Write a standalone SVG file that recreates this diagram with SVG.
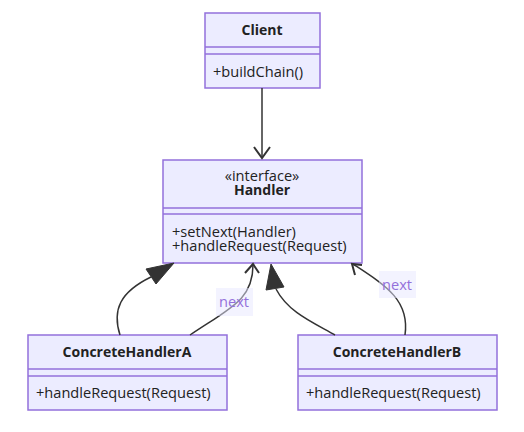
<svg xmlns="http://www.w3.org/2000/svg" width="524" height="432" viewBox="0 0 524 432">
<style>
.box{fill:#ECECFF;stroke:#9370DB;stroke-width:1.5}
.div{stroke:#9370DB;stroke-width:1.5}
text{font-family:"Open Sans","Noto Sans","Liberation Sans",sans-serif;font-size:14.6px;fill:#222}
.t{font-weight:bold;text-anchor:middle;font-size:14px}
.c{text-anchor:middle}
.edge{fill:none;stroke:#333;stroke-width:1.5}
.lbl{fill:#9370DB;text-anchor:middle}
.lblbg{fill:#E8E8FF;opacity:0.5}
</style>
<rect width="524" height="432" fill="#fff"/>
<g id="Client">
<rect class="box" x="205" y="13" width="115" height="75"/>
<line class="div" x1="205" y1="47" x2="320" y2="47"/>
<line class="div" x1="205" y1="54" x2="320" y2="54"/>
<text class="t" x="262" y="35">Client</text>
<text x="213" y="77">+buildChain()</text>
</g>
<g id="Handler">
<rect class="box" x="163" y="160" width="199" height="103"/>
<line class="div" x1="163" y1="208" x2="362" y2="208"/>
<line class="div" x1="163" y1="214" x2="362" y2="214"/>
<text class="c" x="262" y="181">«interface»</text>
<text class="t" x="262" y="195">Handler</text>
<text x="172" y="237">+setNext(Handler)</text>
<text x="172" y="251">+handleRequest(Request)</text>
</g>
<g id="ConcreteHandlerA">
<rect class="box" x="28" y="335" width="199" height="75"/>
<line class="div" x1="28" y1="369" x2="227" y2="369"/>
<line class="div" x1="28" y1="376" x2="227" y2="376"/>
<text class="t" x="127" y="357">ConcreteHandlerA</text>
<text x="36" y="398">+handleRequest(Request)</text>
</g>
<g id="ConcreteHandlerB">
<rect class="box" x="298" y="335" width="199" height="75"/>
<line class="div" x1="298" y1="369" x2="497" y2="369"/>
<line class="div" x1="298" y1="376" x2="497" y2="376"/>
<text class="t" x="397" y="357">ConcreteHandlerB</text>
<text x="306" y="398">+handleRequest(Request)</text>
</g>
<g id="connectors">
<line class="edge" x1="262" y1="88" x2="262" y2="158"/>
<path d="M254,147 L262,158 L270,147" fill="none" stroke="#333" stroke-width="2"/>
<path class="edge" d="M120,335 C112,310 120,292 151,277"/>
<polygon points="174,263 146,269 156,284" fill="#333" stroke="#333" stroke-width="1"/>
<path class="edge" d="M276,289 C288,312 312,322 335,335"/>
<polygon points="271,264 266,290 284,287" fill="#333" stroke="#333" stroke-width="1"/>
<path class="edge" d="M190,335 C230,308 253,300 253,265"/>
<path d="M245,273 L253,264 L259,273" fill="none" stroke="#333" stroke-width="2"/>
<path class="edge" d="M405,335 C410,300 385,285 353,264"/>
<path d="M355,275 L352,264 L362,265" fill="none" stroke="#333" stroke-width="2"/>
<rect class="lblbg" x="216" y="288" width="37" height="28"/>
<text class="lbl" x="234" y="307">next</text>
<rect class="lblbg" x="379" y="271" width="37" height="27"/>
<text class="lbl" x="397" y="290">next</text>
</g>
</svg>
